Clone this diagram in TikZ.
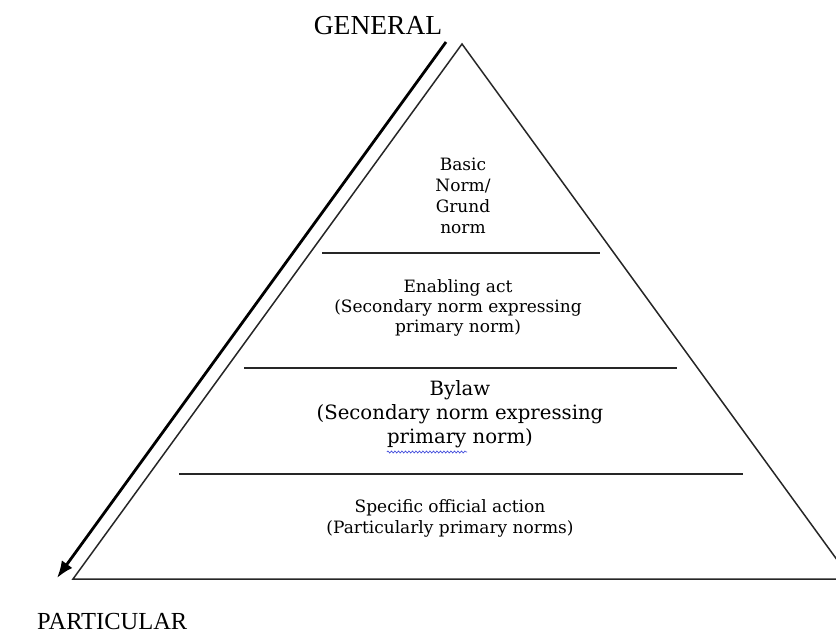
\documentclass[tikz,border=0pt]{standalone}
\usepackage{fontspec}
\setmainfont{Liberation Serif}
\newfontfamily\slab{DejaVu Serif}
\usetikzlibrary{arrows.meta,decorations.pathmorphing}
\definecolor{spellblue}{RGB}{70,80,220}
\tikzset{
  edge/.style={line width=1.5pt, draw=black!85},
  tierline/.style={line width=1.4pt, draw=black!85},
  bigarrow/.style={line width=2.8pt, -{Latex[length=17pt,width=13pt]}},
  caplabel/.style={inner sep=0pt, anchor=base},
  smalltxt/.style={inner sep=0pt, anchor=base, font=\slab\fontsize{17}{20}\selectfont},
  largetxt/.style={inner sep=0pt, anchor=base, font=\slab\fontsize{19.7}{23}\selectfont},
}
\begin{document}
\begin{tikzpicture}[x=1pt,y=-1pt]
\useasboundingbox (0,0) rectangle (836,636);
% pyramid
\coordinate (apex) at (462,44);
\coordinate (bl) at (73,579);
\coordinate (br) at (851,579);
\begin{scope}
\clip (0,0) rectangle (836,636);
\draw[edge] (bl) -- (apex) -- (br) -- cycle;
\end{scope}
% tier lines
\coordinate (l1a) at (322,253); \coordinate (l1b) at (600,253);
\coordinate (l2a) at (244,368); \coordinate (l2b) at (677,368);
\coordinate (l3a) at (179,474); \coordinate (l3b) at (743,474);
\draw[tierline] (l1a) -- (l1b);
\draw[tierline] (l2a) -- (l2b);
\draw[tierline] (l3a) -- (l3b);
% arrow
\coordinate (atop) at (446,42);
\coordinate (atip) at (57,578);
\draw[bigarrow] (atop) -- (atip);
% labels
\node[caplabel, font=\fontsize{27.5}{30}\selectfont] (gen) at (378,35) {GENERAL};
\node[caplabel, font=\fontsize{24.5}{28}\selectfont, anchor=base west] (part) at (37,629) {PARTICULAR};
% top tier
\node[smalltxt] (t1a) at (463,171) {Basic};
\node[smalltxt] (t1b) at (463,192) {Norm/};
\node[smalltxt] (t1c) at (463,213) {Grund};
\node[smalltxt] (t1d) at (463,234) {norm};
% second tier
\node[smalltxt] (t2a) at (458,293) {Enabling act};
\node[smalltxt] (t2b) at (458,313) {(Secondary norm expressing};
\node[smalltxt] (t2c) at (458,333) {primary norm)};
% third tier
\node[largetxt] (t3a) at (460,396) {Bylaw};
\node[largetxt] (t3b) at (460,420) {(Secondary norm expressing};
\node[largetxt] (t3c) at (460,443) {primary norm)};
% wavy spell-check underline
\draw[spellblue, line width=0.7pt, decorate, decoration={snake, amplitude=1pt, segment length=3.5pt}]
  ([yshift=-9pt]t3c.base west) -- ([xshift=-66pt,yshift=-9pt]t3c.base east);
% bottom tier
\node[smalltxt] (t4a) at (450,512) {Specific official action};
\node[smalltxt] (t4b) at (450,533) {(Particularly primary norms)};
\end{tikzpicture}
\end{document}
